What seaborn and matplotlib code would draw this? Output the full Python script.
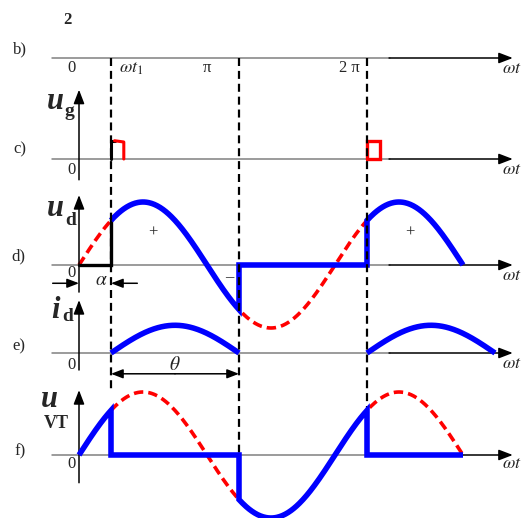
import numpy as np
import matplotlib.pyplot as plt
import seaborn as sns

sns.set_style('white')
plt.rcParams['font.family'] = ['Liberation Serif', 'DejaVu Serif']
plt.rcParams['mathtext.fontset'] = 'stix'

# waveform parameters (angles in degrees, amplitudes relative to U2m)
ALPHA = 45          # firing angle
THETA = 180         # conduction angle
WT_END = 540        # end of the drawn supply wave
PULSE_W = 18        # gate pulse width
PULSE_H = 0.29      # gate pulse height
I_PEAK = 0.44       # id peak on the drawing

BLUE = '#0000ff'
RED = '#ff0000'
GRAY = '#808080'

# layout: pixels of the 531x518 picture
PX_W, PX_H = 531, 518
X0_PX = 79                  # wt = 0
PX_PER_DEG = 128 / 180
AMP_PX = 63                 # 1 unit of amplitude
BASE_PX = {'b': 58, 'c': 159, 'd': 265, 'e': 353, 'f': 455}

X_LIM = (-X0_PX / PX_PER_DEG, (PX_W - X0_PX) / PX_PER_DEG)

fig = plt.figure(figsize=(PX_W / 100, PX_H / 100), dpi=100)


def panel(key):
    base = BASE_PX[key]
    ax = fig.add_axes([0, 0, 1, 1])
    ax.set_xlim(*X_LIM)
    ax.set_ylim(-(PX_H - base) / AMP_PX, base / AMP_PX)
    ax.axis('off')
    return ax


def head(scale=13):
    return dict(arrowstyle='-|>,head_length=0.65,head_width=0.25',
                mutation_scale=scale, color='black', lw=1.1,
                shrinkA=0, shrinkB=0)


def time_axis(ax, ylab=-0.16):
    ax.plot([-38, 437], [0, 0], color=GRAY, lw=1.1, zorder=1)
    ax.annotate('', xy=(610, 0), xytext=(436, 0), arrowprops=head())
    ax.text(609, ylab, r'$\omega t$', fontsize=13, ha='center', va='center')


def value_axis(ax, bottom, top):
    ax.annotate('', xy=(0, top), xytext=(0, bottom), arrowprops=head())


def symbol(ax, x, y, main, sub, dx=1, dy=-0.17, subsize=14):
    # big bold-italic quantity letter with a bold subscript
    ax.text(x, y, main, fontsize=22, fontweight='bold', fontstyle='italic',
            ha='right', va='center')
    ax.text(x + dx, y + dy, sub, fontsize=subsize, fontweight='bold',
            ha='left', va='center')


def wave(ax, x, y, color=BLUE, lw=4, dashed=False, z=3):
    kw = dict(solid_joinstyle='miter', solid_capstyle='butt')
    if dashed:
        kw = dict(linestyle=(0, (2.6, 1.4)), dash_capstyle='butt')
    sns.lineplot(x=x, y=y, ax=ax, color=color, lw=lw, sort=False,
                 estimator=None, zorder=z, **kw)


wt = np.arange(0, WT_END + 1)
u2 = np.sin(np.radians(wt))
on1 = (wt >= ALPHA) & (wt <= ALPHA + THETA)
on2 = wt >= 360 + ALPHA
off = (wt >= ALPHA + THETA) & (wt <= 360 + ALPHA)
pre = wt <= ALPHA

# ---- b) angle scale
ax_b = panel('b')
time_axis(ax_b, ylab=-0.16)
ax_b.text(-10, -0.16, '0', fontsize=12, ha='center', va='center')
ax_b.text(73, -0.16, r'$\omega t_1$', fontsize=13, ha='center', va='center')
ax_b.text(180, -0.16, 'π', fontsize=12, ha='center', va='center')
ax_b.text(380, -0.16, '2 π', fontsize=12, ha='center', va='center')
ax_b.text(-83, 0.14, 'b)', fontsize=12, ha='center', va='center')

# ---- c) gate pulses
ax_c = panel('c')
time_axis(ax_c, ylab=-0.17)
value_axis(ax_c, -0.33, 1.10)
ax_c.plot([ALPHA, ALPHA, ALPHA + 5], [0, PULSE_H, PULSE_H], color='black',
          lw=2.2, solid_joinstyle='miter', zorder=3)
ax_c.plot([ALPHA + 5, ALPHA + PULSE_W, ALPHA + PULSE_W],
          [PULSE_H, PULSE_H - 0.02, 0], color=RED, lw=2.2, zorder=3)
p = 360 + ALPHA
ax_c.plot([p, p, p + PULSE_W, p + PULSE_W, p], [0, PULSE_H, PULSE_H, 0, 0],
          color=RED, lw=2.4, solid_joinstyle='miter', zorder=3)
ax_c.text(-83, 0.16, 'c)', fontsize=12, ha='center', va='center')
ax_c.text(-10, -0.17, '0', fontsize=12, ha='center', va='center')
symbol(ax_c, -21, 0.92, 'u', 'g', dy=-0.16)

# ---- d) load voltage
ax_d = panel('d')
time_axis(ax_d, ylab=-0.16)
value_axis(ax_d, -0.43, 1.11)
wave(ax_d, wt, u2, color=RED, lw=2.6, dashed=True, z=2)
ax_d.plot([0, ALPHA, ALPHA], [0, 0, u2[ALPHA]], color='black', lw=2.4,
          solid_joinstyle='miter', zorder=3)
ud_x = np.concatenate([wt[on1], [ALPHA + THETA, 360 + ALPHA], wt[on2]])
ud_y = np.concatenate([u2[on1], [0, 0], u2[on2]])
wave(ax_d, ud_x, ud_y)
ax_d.text(-85, 0.14, 'd)', fontsize=12, ha='center', va='center')
ax_d.text(-10, -0.13, '0', fontsize=12, ha='center', va='center')
symbol(ax_d, -21, 0.90, 'u', 'd', dy=-0.2)
ax_d.text(104, 0.52, '+', fontsize=12, ha='center', va='center')
ax_d.text(465, 0.52, '+', fontsize=12, ha='center', va='center')
ax_d.text(211, -0.19, '–', fontsize=12, ha='center', va='center')
ax_d.text(31, -0.24, r'$\alpha$', fontsize=14, ha='center', va='center')
ax_d.annotate('', xy=(0, -0.29), xytext=(-37, -0.29), arrowprops=head(11))
ax_d.annotate('', xy=(ALPHA, -0.29), xytext=(82, -0.29), arrowprops=head(11))

# ---- e) load current
ax_e = panel('e')
time_axis(ax_e, ylab=-0.16)
value_axis(ax_e, -0.27, 0.84)
for start in (ALPHA, 360 + ALPHA):
    x = np.arange(start, start + THETA + 1)
    wave(ax_e, x, I_PEAK * np.sin(np.pi * (x - start) / THETA))
ax_e.text(-85, 0.10, 'e)', fontsize=12, ha='center', va='center')
ax_e.text(-10, -0.19, '0', fontsize=12, ha='center', va='center')
symbol(ax_e, -27, 0.68, 'i', 'd', dx=4, dy=-0.1)
ax_e.text(ALPHA + THETA / 2, -0.19, r'$\theta$', fontsize=14, ha='center',
          va='center')
ax_e.annotate('', xy=(ALPHA, -0.33), xytext=(ALPHA + THETA / 2, -0.33),
              arrowprops=head(11))
ax_e.annotate('', xy=(ALPHA + THETA, -0.33), xytext=(ALPHA + THETA / 2, -0.33),
              arrowprops=head(11))

# ---- f) thyristor voltage
ax_f = panel('f')
time_axis(ax_f, ylab=-0.13)
value_axis(ax_f, -0.44, 1.03)
wave(ax_f, wt[wt >= ALPHA], u2[wt >= ALPHA], color=RED, lw=2.6, dashed=True, z=2)
vt_x = np.concatenate([wt[pre], [ALPHA, ALPHA + THETA], wt[off],
                       [360 + ALPHA, WT_END]])
vt_y = np.concatenate([u2[pre], [0, 0], u2[off], [0, 0]])
wave(ax_f, vt_x, vt_y)
ax_f.text(-83, 0.06, 'f)', fontsize=12, ha='center', va='center')
ax_f.text(-10, -0.14, '0', fontsize=12, ha='center', va='center')
symbol(ax_f, -30, 0.88, 'u', 'VT', dx=-20, dy=-0.38, subsize=13)

# dashed guide lines through all panels
top = BASE_PX['f'] / AMP_PX - BASE_PX['b'] / AMP_PX
guides = [(ALPHA, 1.03), (ALPHA + THETA, 0.0), (360 + ALPHA, u2[ALPHA])]
for gx, gy in guides:
    ax_f.plot([gx, gx], [top, gy], color='black', lw=1.6,
              linestyle=(0, (3.6, 2.2)), zorder=2.5)

fig.text(67 / PX_W, 1 - 20 / PX_H, '2', fontsize=12, fontweight='bold',
         ha='center', va='center')

fig.savefig('out.png', dpi=100)
